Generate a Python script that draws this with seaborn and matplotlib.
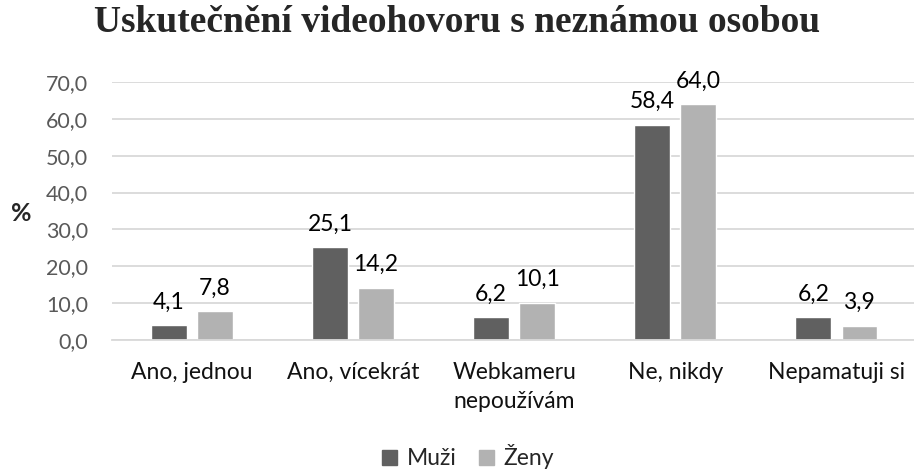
import matplotlib
matplotlib.use("Agg")
import matplotlib.pyplot as plt
import seaborn as sns
import pandas as pd

categories = ["Ano, jednou", "Ano, vícekrát", "Webkameru\nnepoužívám", "Ne, nikdy", "Nepamatuji si"]
muzi = [4.1, 25.1, 6.2, 58.4, 6.2]
zeny = [7.8, 14.2, 10.1, 64.0, 3.9]
series = ["Muži", "Ženy"]
yticks = [0, 10, 20, 30, 40, 50, 60, 70]

df = pd.DataFrame({
    "cat": categories * 2,
    "val": muzi + zeny,
    "ser": [series[0]] * len(categories) + [series[1]] * len(categories),
})

sns.set_style("white")
plt.rcParams['font.family'] = ['Lato', 'DejaVu Sans']

fig = plt.figure(figsize=(9.14, 4.73), dpi=100)
ax = fig.add_axes([0.122, 0.281, 0.881, 0.546])

palette = {"Muži": "#606060", "Ženy": "#b2b2b2"}
sns.barplot(data=df, x="cat", y="val", hue="ser", palette=palette, ax=ax,
            width=0.572, gap=0.23, saturation=1, order=categories, hue_order=series)

for cont in ax.containers:
    labels = [f"{v:.1f}".replace(".", ",") for v in cont.datavalues]
    ax.bar_label(cont, labels=labels, padding=9, fontsize=16.5, color="black")

ax.set_ylim(0, 70)
ax.set_yticks(yticks)
ax.set_yticklabels([f"{v:.1f}".replace(".", ",") for v in yticks], fontsize=15.5, color="#595959")
ax.tick_params(axis="x", labelsize=16.5, colors="#111111", length=0, pad=16)
ax.tick_params(axis="y", length=0, pad=17)
for t in ax.get_xticklabels():
    t.set_linespacing(1.45)
ax.set_xlabel("")
ax.set_ylabel("%", rotation=0, fontsize=18, fontweight="bold", va="center", ha="center")
ax.yaxis.set_label_coords(-0.112, 0.49)
ax.grid(axis="y", color="#d9d9d9", linewidth=1.3)
ax.set_axisbelow(True)
for s in ["top", "right", "left"]:
    ax.spines[s].set_visible(False)
ax.spines["bottom"].set_color("#d9d9d9")
ax.spines["bottom"].set_linewidth(1.3)
ax.set_xlim(-0.5, len(categories) - 0.5)

ax.legend_.remove()
handles = [plt.Rectangle((0, 0), 1, 1, color=palette[s]) for s in series]
fig.legend(handles, series, loc="center", bbox_to_anchor=(0.512, 0.034), ncol=2,
           frameon=False, fontsize=16.5, handlelength=0.65, handleheight=0.65,
           handletextpad=0.4, columnspacing=1.0, borderpad=0)

fig.suptitle("Uskutečnění videohovoru s neznámou osobou", x=0.5, y=0.99,
             fontsize=27, fontweight="bold", family=["Liberation Serif"])

fig.savefig("out.png", dpi=100)
